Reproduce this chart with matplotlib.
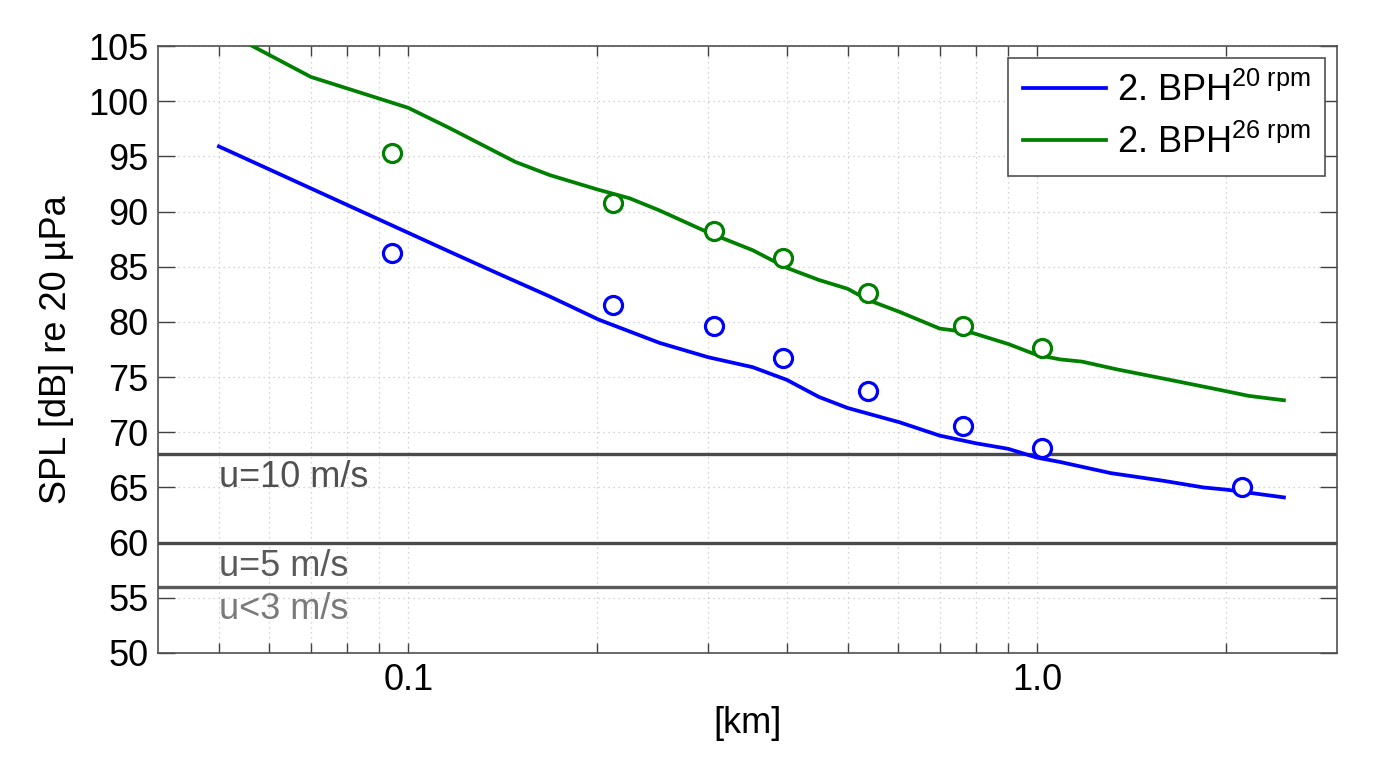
import matplotlib
matplotlib.use("Agg")
import matplotlib.pyplot as plt
from matplotlib.ticker import FixedLocator, NullFormatter, FixedFormatter

plt.rcParams['font.family'] = ['Liberation Sans', 'DejaVu Sans']
plt.rcParams['mathtext.fontset'] = 'custom'
plt.rcParams['mathtext.rm'] = 'Liberation Sans'
plt.rcParams['mathtext.it'] = 'Liberation Sans'

# ---- data ----
dist_20 = [0.05, 0.116, 0.140, 0.168, 0.201, 0.251, 0.30, 0.353, 0.40, 0.45, 0.50, 0.605,
           0.70, 0.80, 0.90, 1.0, 1.09, 1.31, 1.59, 1.84, 2.0, 2.47]
spl_20 = [95.9, 86.4, 84.3, 82.3, 80.2, 78.1, 76.8, 75.9, 74.75, 73.2, 72.2, 70.9,
          69.7, 69.0, 68.5, 67.7, 67.3, 66.3, 65.6, 65.0, 64.8, 64.1]

dist_26 = [0.05, 0.07, 0.10, 0.116, 0.148, 0.168, 0.20, 0.225, 0.251, 0.30, 0.353, 0.40,
           0.45, 0.50, 0.538, 0.605, 0.70, 0.79, 0.90, 1.0, 1.09, 1.18, 1.34, 1.61,
           1.93, 2.17, 2.47]
spl_26 = [106.6, 102.2, 99.4, 97.6, 94.5, 93.3, 92.0, 91.2, 90.1, 88.1, 86.5, 84.9,
          83.8, 83.0, 82.0, 80.9, 79.4, 79.0, 78.0, 77.0, 76.6, 76.4, 75.7, 74.8,
          73.9, 73.3, 72.9]

meas_dist = [0.0943, 0.212, 0.306, 0.395, 0.538, 0.763, 1.02, 2.12]
meas_20 = [86.25, 81.5, 79.6, 76.7, 73.7, 70.6, 68.6, 65.05]
meas_dist_26 = [0.0943, 0.212, 0.306, 0.395, 0.538, 0.763, 1.02]
meas_26 = [95.3, 90.8, 88.2, 85.8, 82.6, 79.6, 77.6]

wind_levels = [68, 60, 56]
wind_labels = ['u=10 m/s', 'u=5 m/s', 'u<3 m/s']
wind_label_y = [65.9, 57.8, 53.9]
wind_line_colors = ['#4a4a4a', '#4a4a4a', '#5a5a5a']
wind_text_colors = ['#505050', '#5a5a5a', '#7a7a7a']

labels = [r'2. BPH$^{\mathrm{20\ rpm}}$', r'2. BPH$^{\mathrm{26\ rpm}}$']
x_ticks = [0.05, 0.06, 0.07, 0.08, 0.09, 0.1, 0.2, 0.3, 0.4, 0.5, 0.6, 0.7, 0.8, 0.9, 1.0, 2.0]
x_tick_labels = ['' if t not in (0.1, 1.0) else ('0.1' if t == 0.1 else '1.0') for t in x_ticks]
y_ticks = list(range(50, 106, 5))

FS = 26

# ---- figure ----
fig = plt.figure(figsize=(13.75, 7.63), dpi=100)
ax = fig.add_axes([158/1375, 1 - 653/763, (1337-158)/1375, (653-46)/763])

blue = (0, 0, 1)
green = (0, 0.5, 0)

for lvl, c in zip(wind_levels, wind_line_colors):
    ax.axhline(lvl, color=c, lw=2.4, zorder=2)
for lab, yy, c in zip(wind_labels, wind_label_y, wind_text_colors):
    ax.text(0.05, yy, lab, color=c, fontsize=FS, ha='left', va='center', zorder=3)

l1, = ax.plot(dist_20, spl_20, color=blue, lw=2.7, label=labels[0], zorder=4)
l2, = ax.plot(dist_26, spl_26, color=green, lw=2.7, label=labels[1], zorder=4)
ax.plot(meas_dist, meas_20, 'o', ms=13, mfc='white', mec=blue, mew=2.3, zorder=5)
ax.plot(meas_dist_26, meas_26, 'o', ms=13, mfc='white', mec=green, mew=2.3, zorder=5)

ax.set_xscale('log')
ax.set_xlim(0.04, 3.0)
ax.set_ylim(50, 105)
ax.xaxis.set_major_locator(FixedLocator(x_ticks))
ax.xaxis.set_major_formatter(FixedFormatter(x_tick_labels))
ax.xaxis.set_minor_locator(FixedLocator([]))
ax.xaxis.set_minor_formatter(NullFormatter())
ax.set_yticks(y_ticks)
ax.set_yticklabels([str(v) for v in y_ticks])

ax.tick_params(axis='both', direction='in', labelsize=FS, color='#404040',
               top=True, right=True, width=1.0, pad=7)
ax.tick_params(axis='y', length=12)
ax.tick_params(axis='x', length=7)

ax.grid(True, which='major', axis='both', linestyle=(0, (1, 3)), color='#c8c8c8', lw=0.9)

for s in ax.spines.values():
    s.set_color('#505050')
    s.set_linewidth(1.2)

ax.set_xlabel('[km]', fontsize=FS, labelpad=6)
ax.set_ylabel('SPL [dB] re 20 µPa', fontsize=FS, labelpad=10)

leg = ax.legend(handles=[l1, l2], loc='upper right',
                bbox_to_anchor=(1325/1375, 1 - 58/763), bbox_transform=fig.transFigure,
                borderaxespad=0, fontsize=FS, fancybox=False, framealpha=1,
                edgecolor='#505050', handlelength=2.3, handletextpad=0.3,
                labelspacing=0.45, borderpad=0.4)
leg.get_frame().set_linewidth(1.2)

fig.savefig('out.png', dpi=100, facecolor='white')
